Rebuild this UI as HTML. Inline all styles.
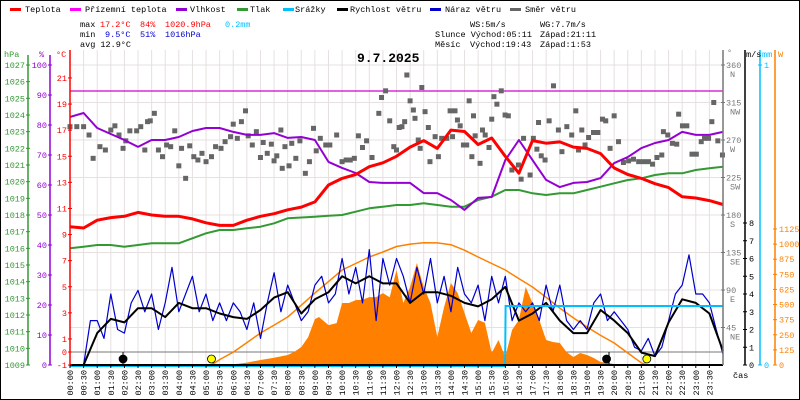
<!DOCTYPE html>
<html><head><meta charset="utf-8"><style>
html,body{margin:0;padding:0;background:#fff}
svg{display:block;font-family:"Liberation Mono","DejaVu Sans Mono",monospace}
</style></head><body>
<svg id="c" width="800" height="400" viewBox="0 0 800 400" xmlns="http://www.w3.org/2000/svg">
<rect x="0.5" y="0.5" width="799" height="399" fill="#fff" stroke="#000"/>
<g id="grid"></g>
<g id="series"></g>
<g id="axes"></g>
<g font-size="8.5">
 <g><rect x="10" y="8" width="11" height="3" fill="#f00"/><text x="25" y="12">Teplota</text></g>
 <g><rect x="70" y="8" width="11" height="3" fill="#f0f"/><text x="85" y="12">Přízemní teplota</text></g>
 <g><rect x="176" y="8" width="11" height="3" fill="#9400d3"/><text x="190" y="12">Vlhkost</text></g>
 <g><rect x="237" y="8" width="11" height="3" fill="#339933"/><text x="250" y="12">Tlak</text></g>
 <g><rect x="283" y="8" width="11" height="3" fill="#00bfff"/><text x="295" y="12">Srážky</text></g>
 <g><rect x="337" y="8" width="11" height="3" fill="#000"/><text x="350" y="12">Rychlost větru</text></g>
 <g><rect x="430" y="8" width="11" height="3" fill="#0000cc"/><text x="445" y="12">Náraz větru</text></g>
 <g><rect x="510" y="8" width="11" height="3" fill="#666"/><text x="525" y="12">Směr větru</text></g>
</g>
<g font-size="8.5">
 <text x="80" y="27">max</text><text x="100" y="27" fill="#f00">17.2°C</text><text x="140" y="27" fill="#f00">84%</text><text x="165" y="27" fill="#f00">1020.9hPa</text><text x="225" y="27" fill="#00bfff">0.2mm</text>
 <text x="80" y="37">min</text><text x="105" y="37" fill="#00c">9.5°C</text><text x="140" y="37" fill="#00c">51%</text><text x="165" y="37" fill="#00c">1016hPa</text>
 <text x="80" y="47">avg 12.9°C</text>
 <text x="470" y="27">WS:5m/s</text><text x="540" y="27">WG:7.7m/s</text>
 <text x="435" y="37">Slunce Východ:05:11</text><text x="540" y="37">Západ:21:11</text>
 <text x="435" y="47">Měsíc</text><text x="470" y="47">Východ:19:43</text><text x="540" y="47">Západ:1:53</text>
</g>
<text x="357" y="62" font-size="13" font-weight="bold">9.7.2025</text>
</svg>
<script>
const tempVals=[9.6,9.5,10.1,10.3,10.4,10.7,10.5,10.4,10.4,10.2,9.9,9.7,9.7,10.1,10.4,10.6,10.9,11.1,11.5,12.8,13.3,13.6,14.2,14.5,15.0,15.7,16.2,15.6,17.0,16.9,15.9,16.4,15.0,13.7,16.2,16.0,16.1,15.7,15.6,15.2,14.1,13.6,13.3,12.9,12.6,11.9,11.8,11.6,11.3];
const humVals=[82.7,84,79,77,75,72.7,75,75,76,78,79,79,77.7,76.7,76.7,77.3,75.7,76,75,67.7,65.7,64,61,60.7,60.7,60.7,57.3,57.3,55,51.7,55.7,56,68.3,75,68.3,61.7,59.3,60.7,61,62.3,67.3,69.3,72.3,74,75,77.7,76.7,76.7,77.7];
const pressVals=[1016.0,1016.1,1016.2,1016.2,1016.1,1016.2,1016.3,1016.3,1016.3,1016.6,1016.9,1017.1,1017.1,1017.2,1017.3,1017.5,1017.8,1017.85,1017.9,1017.95,1018.0,1018.2,1018.4,1018.5,1018.6,1018.6,1018.7,1018.6,1018.5,1018.5,1018.9,1019.1,1019.5,1019.5,1019.3,1019.2,1019.3,1019.3,1019.5,1019.7,1019.9,1020.1,1020.2,1020.4,1020.5,1020.5,1020.7,1020.8,1020.9];
const windVals=[0,0,1.8,2.6,2.4,3.2,3.2,2.7,3.5,3.2,3.2,2.9,2.7,2.6,3.1,3.8,4.1,2.9,3.7,4.1,5.0,4.6,5.0,4.6,4.6,3.5,4.1,4.1,3.9,3.5,3.3,3.7,4.4,2.5,2.9,3.5,2.5,1.8,1.8,3.1,2.5,1.8,0.7,0.5,2.4,3.7,3.5,2.9,0.8];
const gustVals=[0,0,0,2.5,2.5,1.5,4.0,2.0,1.8,3.5,4.2,3.0,4.0,2.0,3.5,5.5,3.0,4.0,5.0,3.0,4.0,2.5,3.5,2.5,3.5,3.0,2.0,3.5,1.5,3.5,5.2,3.0,4.5,3.5,2.5,3.0,4.5,5.0,3.5,4.0,6.0,4.0,5.5,3.5,6.5,2.5,6.0,4.5,6.0,5.0,3.5,5.5,4.0,6.0,3.5,5.0,3.0,5.5,4.0,3.5,4.5,2.5,5.0,3.5,5.0,2.5,3.5,3.0,3.5,2.5,4.5,3.0,4.5,2.5,2.0,2.5,2.0,3.5,4.0,2.5,3.0,2.5,2.0,1.0,0.8,1.5,0.5,1.0,2.5,4.0,4.5,6.2,4.0,4.0,3.5,2.0,0.6];
const solarHours=[5.9,6,6.5,7,7.5,8,8.25,8.5,8.75,9,9.15,9.5,9.8,10,10.25,10.5,10.75,11,11.25,11.5,11.75,12,12.25,12.5,12.75,13,13.25,13.5,13.75,14,14.25,14.5,14.75,15,15.25,15.5,15.75,16,16.25,16.5,16.75,17,17.25,17.5,17.75,18,18.25,18.5,18.75,19,19.25,19.5,19.75,20,20.5,21];
const solarVals=[0,5,20,41,60,83,110,149,230,380,397,330,347,513,513,537,540,562,562,595,560,786,513,645,844,645,513,232,480,678,595,430,265,372,350,99,207,66,290,372,645,513,372,207,190,182,107,66,99,83,58,25,17,8,5,0];
const sunHours=[5.2,5.5,6,6.5,7,7.5,8,8.5,9,9.5,10,10.5,11,11.5,12,12.5,13,13.5,14,14.5,15,15.5,16,16.5,17,17.5,18,18.5,19,19.5,20,20.5,21,21.2];
const sunVals=[0,45,107,185,265,330,397,495,595,690,786,840,893,935,980,1000,1012,1010,995,950,893,840,786,715,645,560,471,390,314,245,182,99,17,0];
const dirHours=[0,0.25,0.5,0.7,0.85,1.1,1.3,1.5,1.65,1.8,1.95,2.05,2.2,2.45,2.6,2.75,2.85,2.95,3.1,3.25,3.4,3.55,3.7,3.85,4.0,4.1,4.25,4.4,4.55,4.7,4.85,5.0,5.2,5.35,5.55,5.7,5.9,6.0,6.15,6.3,6.45,6.55,6.7,6.85,7.0,7.1,7.25,7.4,7.5,7.6,7.75,7.8,7.9,8.05,8.15,8.3,8.45,8.65,8.8,8.95,9.05,9.2,9.4,9.55,9.8,10.0,10.15,10.3,10.45,10.6,10.75,10.9,11.1,11.35,11.45,11.6,11.75,11.9,12.0,12.1,12.2,12.3,12.38,12.5,12.62,12.68,12.8,12.87,12.93,13.05,13.17,13.23,13.42,13.54,13.66,13.85,13.97,14.06,14.15,14.24,14.34,14.46,14.58,14.67,14.77,14.83,14.89,15.07,15.16,15.26,15.4,15.5,15.58,15.69,15.85,15.99,16.11,16.24,16.48,16.58,16.67,16.91,17.03,17.16,17.22,17.32,17.46,17.61,17.77,17.95,18.08,18.26,18.44,18.59,18.69,18.81,18.93,19.06,19.24,19.4,19.57,19.69,19.85,20,20.16,20.34,20.53,20.71,20.9,21.08,21.26,21.41,21.57,21.75,21.81,21.97,22.14,22.3,22.37,22.51,22.67,22.86,23.02,23.2,23.32,23.47,23.59,23.66,23.81,23.98];
const dirVals=[286,286,286,276,248,262,258,282,287,276,260,269,281,281,286,258,292,293,302,258,250,264,262,281,239,260,224,263,250,246,254,244,250,262,260,268,274,289,272,292,305,275,264,280,249,267,254,265,245,251,282,236,262,239,266,248,269,230,244,284,257,272,264,264,276,244,246,246,248,275,261,269,249,302,321,329,293,262,258,285,286,292,348,317,306,296,270,260,333,304,285,244,274,250,272,272,305,274,305,294,287,264,264,317,250,299,275,242,282,276,261,295,322,313,329,300,299,234,240,223,272,228,272,259,291,251,246,293,335,282,256,286,276,305,258,282,264,273,279,279,295,293,260,299,268,243,245,247,244,244,244,241,249,252,280,276,266,265,301,287,287,253,253,268,272,272,292,315,269,252];
const precipHours=[0,15.99,16.01,24];
const precipVals=[0,0,0.2,0.2];
const perceivedVal=20;
const hpaTicks=[1009,1010,1011,1012,1013,1014,1015,1016,1017,1018,1019,1020,1021,1022,1023,1024,1025,1026,1027];
const pctTicks=[0,10,20,30,40,50,60,70,80,90,100];
const tempTicks=[-1,0,1,3,5,7,9,11,13,15,17,19,21];
const dirTicks=[45,90,135,180,225,270,315,360];
const dirNames=["NE","E","SE","S","SW","W","NW","N"];
const msTicks=[0,1,2,3,4,5,6,7,8];
const wTicks=[0,125,250,375,500,625,750,875,1000,1125];

const X0=70,X1=723,YB=365;
const x=h=>X0+h*(X1-X0)/24;
const tY=t=>352-t*13.05;
const hY=v=>YB-v*3;
const pY=p=>YB-(p-1009)*16.667;
const wY=w=>YB-w*17.75;
const dY=d=>YB-d*300/360;
const sY=s=>YB-s*136/1125;
const mY=m=>YB-m*300;
const NS="http://www.w3.org/2000/svg";
function mk(parent,tag,attrs){const e=document.createElementNS(NS,tag);for(const k in attrs)e.setAttribute(k,attrs[k]);parent.appendChild(e);return e;}
const G=document.getElementById('grid'),S=document.getElementById('series'),A=document.getElementById('axes');
for(let k=0;k<=48;k++){const l=mk(G,'line',{x1:x(k/2),x2:x(k/2),y1:50,y2:YB,stroke:'#e6e0e0'});

}
for(let k=1;k<=8;k++){const l=mk(G,'line',{x1:X0,x2:X1,y1:YB-37.5*k,y2:YB-37.5*k,stroke:'#e6e0e0'});

}
const zl=mk(G,'line',{x1:X0,x2:X1,y1:tY(0),y2:tY(0),stroke:'#777'});


let d='M'+x(solarHours[0])+','+YB;solarHours.forEach((h,i)=>{d+=' L'+x(h).toFixed(1)+','+sY(solarVals[i]).toFixed(1);});d+=' L'+x(solarHours[solarHours.length-1])+','+YB+'Z';
const sa=mk(S,'path',{d:d,fill:'#ff8000'});


function line(hs,vs,fy,col,w,name){const p=hs.map((h,i)=>x(h).toFixed(1)+','+fy(vs[i]).toFixed(1)).join(' ');
const e=mk(S,'polyline',{points:p,fill:'none',stroke:col,'stroke-width':w,'stroke-linejoin':'round'});

return e;}
const half=tempVals.map((_,i)=>i/2),quart=gustVals.map((_,i)=>i/4);
line(sunHours,sunVals,sY,'#ff8000',1.5,'sun-elevation-line');
const pl=mk(S,'line',{x1:X0,x2:X1,y1:tY(perceivedVal),y2:tY(perceivedVal),stroke:'#d000d0','stroke-width':1.2});


dirHours.forEach((h,i)=>{const r=mk(S,'rect',{x:x(h)-2.5,y:dY(dirVals[i])-2.5,width:5,height:5,fill:'#666'});

});
line(half,pressVals,pY,'#339933',2,'pressure-line');
line(half,humVals,hY,'#9400d3',2,'humidity-line');
line(half,tempVals,tY,'#f00',3,'temperature-line');
line(quart,gustVals,wY,'#0000cc',1.2,'wind-gust-line');
line(half,windVals,wY,'#000',2,'wind-speed-line');
const pp=precipHours.map((h,i)=>x(h).toFixed(1)+','+(mY(precipVals[i])+1).toFixed(1)).join(' ');
const pe=mk(S,'polyline',{points:pp,fill:'none',stroke:'#00bfff','stroke-width':2});


const bl=mk(S,'line',{x1:X0,x2:X1,y1:YB,y2:YB,stroke:'#000','stroke-width':2});


[[1.95,'#000'],[5.2,'#ff0'],[19.72,'#000'],[21.2,'#ff0']].forEach(m=>{const c=mk(S,'circle',{cx:x(m[0]),cy:359,r:4,fill:m[1],stroke:'#000','stroke-width':0.8});

});
mk(S,'line',{x1:123,x2:123,y1:352,y2:365,stroke:'#000'});
mk(S,'line',{x1:609,x2:609,y1:352,y2:365,stroke:'#000'});
function vline(xx,y1,y2,col,name){const e=mk(A,'line',{x1:xx,x2:xx,y1:y1,y2:y2,stroke:col,'stroke-width':1.5});

}
vline(28,55,YB,'#339933','pressure-axis');vline(50,55,YB,'#9400d3','humidity-axis');vline(70,50,YB,'#f00','temperature-axis');
vline(723,50,YB,'#777','direction-axis');vline(745,50,YB,'#000','wind-axis');vline(760,50,YB,'#00bfff','precip-axis');vline(775,50,YB,'#ff8000','solar-axis');
function lab(txt,xx,yy,col,anchor,name){const t=mk(A,'text',{x:xx,y:yy,fill:col,'font-size':8.5,'text-anchor':anchor});t.textContent=txt;

return t;}
function tick(xx,yy,col){mk(A,'line',{x1:xx-2,x2:xx+2,y1:yy,y2:yy,stroke:col});}
hpaTicks.forEach(v=>{tick(28,pY(v),'#339933');lab(v,25,pY(v)+3,'#339933','end','hpa-tick-label');});
pctTicks.forEach(v=>{tick(50,hY(v),'#9400d3');lab(v,47,hY(v)+3,'#9400d3','end','humidity-tick-label');});
tempTicks.forEach(v=>{tick(70,tY(v),'#f00');lab(v,67,tY(v)+3,'#f00','end','temp-tick-label');});
dirTicks.forEach((v,i)=>{tick(723,dY(v),'#777');lab(v,726,dY(v)+3,'#777','start','direction-tick-label');lab(dirNames[i],730,dY(v)+12,'#777','start','direction-name-label');});
msTicks.forEach(v=>{tick(745,wY(v),'#000');lab(v,749,wY(v)+3,'#000','start','wind-tick-label');});
[0,1].forEach(v=>{tick(760,mY(v),'#00bfff');lab(v,764,mY(v)+3,'#00bfff','start','precip-tick-label');});
wTicks.forEach(v=>{tick(775,sY(v),'#ff8000');lab(v,779,sY(v)+3,'#ff8000','start','solar-tick-label');});
lab('hPa',4,57,'#339933','start','pressure-unit');lab('%',39,57,'#9400d3','start','humidity-unit');lab('°C',56,57,'#f00','start','temperature-unit');
lab('°',727,55,'#777','start','direction-unit');lab('m/s',746,57,'#000','start','wind-unit');lab('mm',762,57,'#00bfff','start','precip-unit');lab('W',778,57,'#ff8000','start','solar-unit');
lab('čas',733,378,'#000','start','time-axis-title');
for(let k=0;k<48;k++){const h=Math.floor(k/2),m=k%2?'30':'00';const xx=x(k/2);
mk(A,'line',{x1:xx,x2:xx,y1:365,y2:368,stroke:'#000'});
const t=mk(A,'text',{x:0,y:0,'font-size':8.5,'text-anchor':'end',transform:`translate(${xx+3},370) rotate(-90)`});
t.textContent=(h<10?'0':'')+h+':'+m;

}
</script>
</body></html>
